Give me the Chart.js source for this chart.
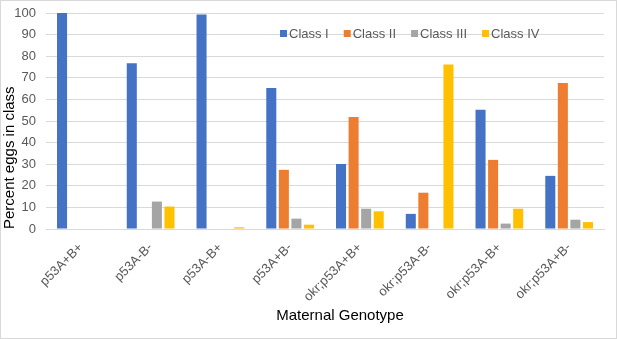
<!DOCTYPE html>
<html>
<head>
<meta charset="utf-8">
<script src="https://cdn.jsdelivr.net/npm/chart.js@4/dist/chart.umd.min.js"></script>
<style>
  html, body { margin: 0; padding: 0; background: #fff; }
  #wrap { position: relative; width: 615px; height: 337px; border: 1px solid #d9d9d9; }
</style>
</head>
<body>
<div id="wrap"><canvas id="chart" width="615" height="337"></canvas></div>
<script>
var genotypes = ["p53A+B+", "p53A-B-", "p53A-B+", "p53A+B-", "okr;p53A+B+", "okr;p53A-B-", "okr;p53A-B+", "okr;p53A+B-"];
var classI   = [100, 76.7, 99.3, 65.3, 30.1, 7.0, 55.2, 24.6];
var classII  = [0, 0, 0, 27.4, 51.9, 16.8, 32.0, 67.6];
var classIII = [0, 12.7, 0, 4.8, 9.4, 0, 2.5, 4.3];
var classIV  = [0, 10.4, 0.8, 2.0, 8.2, 76.2, 9.4, 3.2];
var seriesNames = ["Class I", "Class II", "Class III", "Class IV"];
var seriesColors = ["#4472c4", "#ed7d31", "#a5a5a5", "#ffc000"];

var font = "'Liberation Sans', Arial, sans-serif";

// legend drawn inside the plot (Excel style) + x axis title
var extras = {
  id: 'extras',
  afterDraw: function(chart) {
    var ctx = chart.ctx;
    ctx.save();
    ctx.font = "13px " + font;
    ctx.textBaseline = "middle";
    var x = 279, y = 32;
    chart.data.datasets.forEach(function(ds) {
      ctx.fillStyle = ds.backgroundColor;
      ctx.fillRect(x, y - 3, 7, 7);
      ctx.fillStyle = "#595959";
      ctx.fillText(ds.label, x + 9, y + 1);
      x += 9 + ctx.measureText(ds.label).width + 15;
    });
    ctx.font = "15px " + font;
    ctx.fillStyle = "#000";
    ctx.textAlign = "center";
    ctx.fillText("Maternal Genotype", 339, 315);
    ctx.restore();
  }
};

var ctx = document.getElementById('chart').getContext('2d');
var myChart = new Chart(ctx, {
  type: 'bar',
  data: {
    labels: genotypes,
    datasets: [classI, classII, classIII, classIV].map(function(vals, i) {
      return {
        label: seriesNames[i],
        data: vals,
        backgroundColor: seriesColors[i],
        categoryPercentage: 0.72,
        barPercentage: 0.8
      };
    })
  },
  options: {
    responsive: false,
    animation: false,
    layout: { padding: { top: 12, right: 12, left: 0, bottom: 0 } },
    plugins: {
      legend: { display: false },
      tooltip: { enabled: false }
    },
    scales: {
      x: {
        grid: { display: false },
        border: { color: '#d9d9d9' },
        ticks: { color: '#595959', font: { family: font, size: 13 }, minRotation: 45, maxRotation: 45 },
        afterFit: function(s) { s.height = 109; }
      },
      y: {
        min: 0,
        max: 100,
        ticks: { stepSize: 10, color: '#595959', font: { family: font, size: 13 }, padding: 10 },
        grid: { color: '#d9d9d9', drawTicks: false },
        border: { display: false },
        title: { display: true, text: 'Percent eggs in class', align: 'start', color: '#000', font: { family: font, size: 15 }, padding: { top: 0, bottom: 2 } },
        afterFit: function(s) { s.width = 45; s.paddingTop = 0; s.paddingBottom = 0; }
      }
    }
  },
  plugins: [extras]
});
</script>
</body>
</html>
